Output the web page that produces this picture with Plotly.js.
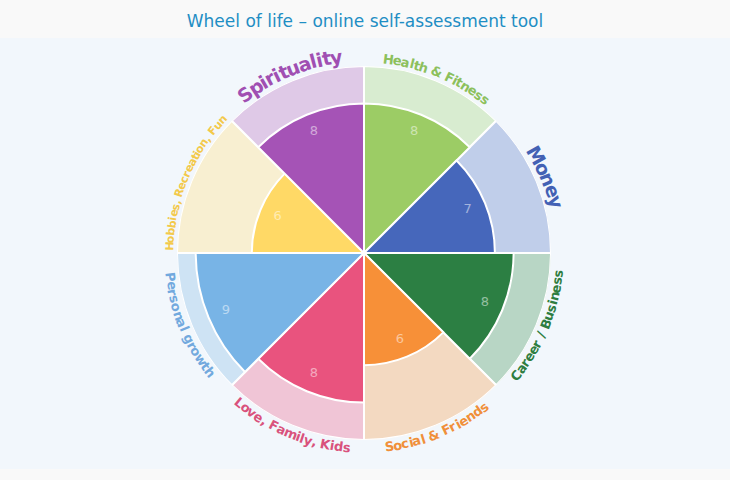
<!DOCTYPE html>
<html>
<head>
<meta charset="utf-8">
<script src="https://cdn.plot.ly/plotly-3.0.1.min.js"></script>
<style>
  html, body { margin: 0; padding: 0; background: #f9f9f9; }
  #plot { width: 730px; height: 480px; }
</style>
</head>
<body>
<div id="plot"></div>
<script>
// life areas, clockwise from the top
let areas = ["Health & Fitness", "Money", "Career / Business", "Social & Friends",
             "Love, Family, Kids", "Personal growth", "Hobbies, Recreation, Fun", "Spirituality"];
let scores = [8, 7, 8, 6, 8, 9, 6, 8];
let maxScore = [10, 10, 10, 10, 10, 10, 10, 10];
let thetas = [22.5, 67.5, 112.5, 157.5, 202.5, 247.5, 292.5, 337.5];

// colours: strong for the score, light for the ring behind it
let strongColors = ["#9ccc65", "#4667bb", "#2c7f43", "#f79038", "#e9537e", "#78b4e6", "#ffd966", "#a553b6"];
let lightColors  = ["#d8ecd0", "#c0ceea", "#b8d6c5", "#f3d9c1", "#f0c5d6", "#cee3f4", "#f8efd1", "#dfc9e7"];
let labelColors  = ["#8cc05c", "#4361b4", "#2e7d40", "#f08f3a", "#d9527c", "#72a9de", "#f3c94a", "#a04fb2"];
let labelSizes   = [13, 19, 13, 13, 13, 13, 11, 19];

// page geometry
let W = 730, H = 480;
let margin = {l: 0, r: 0, t: 38, b: 11, pad: 0};
let plotH = H - margin.t - margin.b;
let radiusPx = 187;
let centerX = 364, centerY = 253;
let domX = [(centerX - radiusPx) / W, (centerX + radiusPx) / W];
let yMid = (H - margin.b - centerY) / plotH;
let domY = [yMid - radiusPx / plotH, yMid + radiusPx / plotH];

let ringTrace = {
    type: "barpolar",
    r: maxScore,
    theta: thetas,
    width: 45,
    marker: {color: lightColors, line: {color: "#ffffff", width: 2}},
    hoverinfo: "skip"
};

let scoreTrace = {
    type: "barpolar",
    r: scores,
    theta: thetas,
    width: 45,
    marker: {color: strongColors, line: {color: "#ffffff", width: 2}},
    hoverinfo: "skip"
};

let scoreText = {
    type: "scatterpolar",
    mode: "text",
    r: scores.map(v => v - 1),
    theta: thetas,
    text: scores.map(String),
    textfont: {family: "DejaVu Sans, sans-serif", size: 13, color: "rgba(255,255,255,0.5)"},
    hoverinfo: "skip"
};

// curved labels, one annotation per character
let labelFont = "'DejaVu Sans', sans-serif";
let canvas = document.createElement("canvas");
let ctx = canvas.getContext("2d");
let annotations = [];

for (var i = 0; i < areas.length; i++) {
    let txt = areas[i];
    let size = labelSizes[i];
    ctx.font = "bold " + size + "px " + labelFont;
    ctx.fontStretch = "condensed";
    let spacing = 0.3;
    let widths = [];
    let total = 0;
    for (let ch of txt) {
        let w = ctx.measureText(ch).width + spacing;
        widths.push(w);
        total += w;
    }
    let R = 188 + size * 0.55;
    let span = total / R * 180 / Math.PI;
    let upper = Math.cos(thetas[i] * Math.PI / 180) > 0;
    let start = upper ? thetas[i] - span / 2 : thetas[i] + span / 2;
    let acc = 0;
    let chars = Array.from(txt);
    for (var k = 0; k < chars.length; k++) {
        let mid = (acc + widths[k] / 2) / R * 180 / Math.PI;
        acc += widths[k];
        if (chars[k] === " ") continue;
        let ang = upper ? start + mid : start - mid;
        let rad = ang * Math.PI / 180;
        let px = centerX + R * Math.sin(rad);
        let py = centerY - R * Math.cos(rad);
        annotations.push({
            xref: "paper", yref: "paper",
            x: (px - margin.l) / (W - margin.l - margin.r),
            y: 1 - (py - margin.t) / plotH,
            xanchor: "center", yanchor: "middle",
            text: chars[k] === "&" ? "&amp;" : chars[k],
            textangle: upper ? ang : ang - 180,
            showarrow: false,
            borderpad: 0,
            font: {family: labelFont, size: size, color: labelColors[i], weight: "bold", stretch: "condensed"}
        });
    }
}

let layout = {
    width: W,
    height: H,
    margin: margin,
    paper_bgcolor: "#f9f9f9",
    showlegend: false,
    title: {
        text: "Wheel of life \u2013 online self-assessment tool",
        font: {family: "DejaVu Sans, sans-serif", size: 17, color: "#1f8ec4"},
        x: 0.5, xanchor: "center",
        yref: "container", y: 1 - 21 / H, yanchor: "middle"
    },
    shapes: [{
        type: "rect", xref: "paper", yref: "paper",
        x0: 0, x1: 1, y0: 0, y1: 1,
        fillcolor: "#f2f7fc", line: {width: 0}, layer: "below"
    }],
    polar: {
        domain: {x: domX, y: domY},
        bgcolor: "rgba(0,0,0,0)",
        barmode: "overlay",
        radialaxis: {range: [0, 10], visible: false},
        angularaxis: {
            direction: "clockwise",
            rotation: 90,
            showgrid: false,
            showline: false,
            showticklabels: false,
            ticks: ""
        }
    },
    annotations: annotations
};

Plotly.newPlot("plot", [ringTrace, scoreTrace, scoreText], layout, {displayModeBar: false, staticPlot: true});
</script>
</body>
</html>
